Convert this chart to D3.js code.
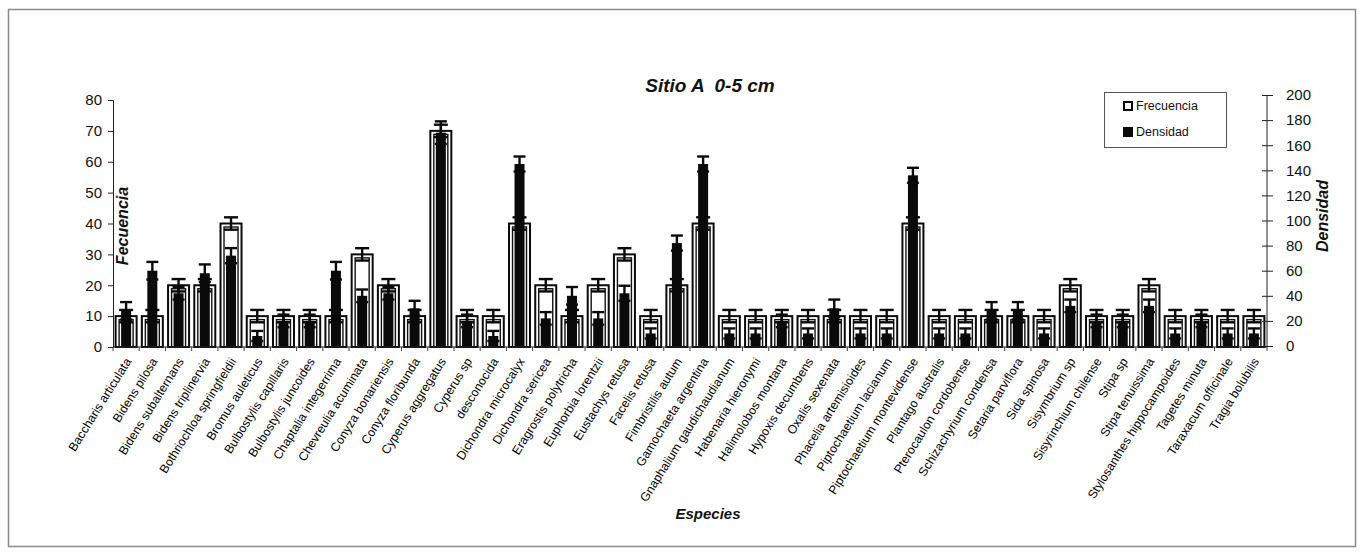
<!DOCTYPE html>
<html>
<head>
<meta charset="utf-8">
<script src="https://cdn.jsdelivr.net/npm/d3@7/dist/d3.min.js"></script>
<style>
  html, body { margin: 0; padding: 0; background: #fff; }
  svg { display: block; font-family: Arial, "Liberation Sans", sans-serif; }
</style>
</head>
<body>
<svg id="chart" width="1364" height="553"></svg>
<script>
// Species sampled at site A, 0-5 cm
const species = [
  "Baccharis articulata", "Bidens pilosa", "Bidens subalternans", "Bidens triplinervia",
  "Bothriochloa springfieldii", "Bromus auleticus", "Bulbostylis capillaris", "Bulbostylis juncoides",
  "Chaptalia integerrima", "Chevreulia acuminata", "Conyza bonariensis", "Conyza floribunda",
  "Cyperus aggregatus", "Cyperus sp", "desconocida", "Dichondra microcalyx",
  "Dichondra sericea", "Eragrostis polytricha", "Euphorbia lorentzii", "Eustachys retusa",
  "Facelis retusa", "Fimbristilis autum", "Gamochaeta argentina", "Gnaphalium gaudichaudianum",
  "Habenaria hieronymi", "Halimolobos montana", "Hypoxis decumbens", "Oxalis sexenata",
  "Phacelia artemisioides", "Piptochaetium lacianum", "Piptochaetium montevidense", "Plantago australis",
  "Pterocaulon cordobense", "Schizachyrium condensa", "Setaria parviflora", "Sida spinosa",
  "Sisymbrium sp", "Sisyrinchium chilense", "Stipa sp", "Stipa tenuissima",
  "Stylosanthes hippocampoides", "Tagetes minuta", "Taraxacum officinale", "Tragia bolubilis"
];

// Frecuencia (%) and its error
const frecuencia = [10,10,20,20,40,10,10,10,10,30,20,10,70,10,10,40,20,10,20,30,10,20,40,10,
                    10,10,10,10,10,10,40,10,10,10,10,10,20,10,10,20,10,10,10,10];
const frecuenciaErr = [2,2,2,2,2,2,2,2,2,2,2,2,2,2,2,2,2,2,2,2,2,2,2,2,
                       2,2,2,2,2,2,2,2,2,2,2,2,2,2,2,2,2,2,2,2,2,2];

// Densidad and its error
const densidad = [28,60,42,58,72,8,20,20,60,40,42,30,170,20,8,145,22,40,22,42,10,82,145,10,
                  10,20,10,30,10,10,136,10,10,28,28,10,32,20,20,32,10,20,10,10];
const densidadErr = [7,7,5,7,6,4,5,5,7,5,5,6,9,5,4,6,5,7,5,6,4,6,6,4,
                     4,5,4,7,4,4,6,4,4,7,7,4,5,5,5,5,4,5,4,4];

const frecuenciaTicks = [0,10,20,30,40,50,60,70,80];
const densidadTicks = [0,20,40,60,80,100,120,140,160,180,200];

const rows = species.map((s, i) => ({
  name: s, f: frecuencia[i], fe: frecuenciaErr[i], d: densidad[i], de: densidadErr[i]
}));

const svg = d3.select("#chart");

// outer frame
svg.append("rect")
  .attr("x", 8.5).attr("y", 9.5).attr("width", 1347).attr("height", 537)
  .attr("fill", "none").attr("stroke", "#8a8a8a").attr("stroke-width", 1.5);

const left = 113, right = 1267;
const x = d3.scaleBand().domain(species).range([left, right]);
const yL = d3.scaleLinear().domain([0, 80]).range([347, 100]);
const yR = d3.scaleLinear().domain([0, 200]).range([346, 95]);

const freqW = 21, densW = 10, capF = 14, capD = 12;
const cx = d => x(d.name) + x.bandwidth() / 2;

const g = svg.append("g");

// Frecuencia bars: white with a doubled outline
g.selectAll("rect.freq").data(rows).join("rect")
  .attr("class", "freq")
  .attr("x", d => cx(d) - freqW / 2).attr("width", freqW)
  .attr("y", d => yL(d.f)).attr("height", d => yL(0) - yL(d.f))
  .attr("fill", "#fff").attr("stroke", "#0a0a0a").attr("stroke-width", 2);
g.selectAll("rect.freqIn").data(rows).join("rect")
  .attr("class", "freqIn")
  .attr("x", d => cx(d) - freqW / 2 + 3.5).attr("width", freqW - 7)
  .attr("y", d => yL(d.f) + 3.5).attr("height", d => Math.max(0, yL(0) - yL(d.f) - 3.5))
  .attr("fill", "none").attr("stroke", "#111").attr("stroke-width", 1.4);

// Densidad bars: solid black, narrower, in front
g.selectAll("rect.dens").data(rows).join("rect")
  .attr("class", "dens")
  .attr("x", d => cx(d) - densW / 2).attr("width", densW)
  .attr("y", d => yR(d.d)).attr("height", d => yR(0) - yR(d.d))
  .attr("fill", "#0a0a0a");

// error bars
function errorBars(cls, scale, val, err, capW) {
  const eg = g.selectAll("g." + cls).data(rows).join("g").attr("class", cls)
    .attr("stroke", "#0a0a0a").attr("stroke-width", 2.4);
  eg.append("line")
    .attr("x1", cx).attr("x2", cx)
    .attr("y1", d => scale(val(d) + err(d))).attr("y2", d => scale(Math.max(0, val(d) - err(d))));
  eg.append("line")
    .attr("x1", d => cx(d) - capW / 2).attr("x2", d => cx(d) + capW / 2)
    .attr("y1", d => scale(val(d) + err(d))).attr("y2", d => scale(val(d) + err(d)));
  eg.append("line")
    .attr("x1", d => cx(d) - capW / 2).attr("x2", d => cx(d) + capW / 2)
    .attr("y1", d => scale(Math.max(0, val(d) - err(d)))).attr("y2", d => scale(Math.max(0, val(d) - err(d))));
}
errorBars("errF", yL, d => d.f, d => d.fe, capF);
errorBars("errD", yR, d => d.d, d => d.de, capD);

// left axis
const axL = svg.append("g").attr("transform", `translate(${left},0)`)
  .call(d3.axisLeft(yL).tickValues(frecuenciaTicks).tickSize(5).tickPadding(6));
axL.selectAll("text").attr("font-size", 15).attr("fill", "#111");
axL.selectAll("line, path").attr("stroke", "#222");

// right axis with crossing ticks
const axR = svg.append("g").attr("transform", `translate(${right},0)`)
  .call(d3.axisRight(yR).tickValues(densidadTicks).tickSize(6).tickPadding(13));
axR.selectAll(".tick line").attr("x1", -5);
axR.selectAll("text").attr("font-size", 15).attr("fill", "#111");
axR.selectAll("line, path").attr("stroke", "#222");
axR.select(".domain").attr("d", `M0,${yR(200)}V${yR(0)}`);

// x axis line with ticks between categories
const xAxis = svg.append("g");
xAxis.append("line").attr("x1", left).attr("x2", right)
  .attr("y1", yL(0)).attr("y2", yL(0)).attr("stroke", "#222").attr("stroke-width", 1.2);
xAxis.selectAll("line.t").data(species.concat(["__end"])).join("line")
  .attr("class", "t")
  .attr("x1", s => s === "__end" ? right : x(s))
  .attr("x2", s => s === "__end" ? right : x(s))
  .attr("y1", yL(0)).attr("y2", yL(0) + 4).attr("stroke", "#444");

// category labels
xAxis.selectAll("text.lab").data(species).join("text")
  .attr("class", "lab")
  .attr("transform", s => `translate(${x(s) + x.bandwidth() / 2 + 2},${yL(0) + 12}) rotate(-58)`)
  .attr("text-anchor", "end").attr("dy", "0.35em")
  .attr("font-size", 12.3).attr("fill", "#000")
  .text(s => s);

// titles
svg.append("text").attr("x", 710).attr("y", 92).attr("text-anchor", "middle")
  .attr("font-size", 19).attr("font-weight", "bold").attr("font-style", "italic")
  .attr("fill", "#111").style("white-space", "pre").text("Sitio A  0-5 cm");

svg.append("text").attr("x", 708).attr("y", 519).attr("text-anchor", "middle")
  .attr("font-size", 15).attr("font-weight", "bold").attr("font-style", "italic")
  .attr("fill", "#111").text("Especies");

svg.append("text").attr("transform", "translate(128,226) rotate(-90)")
  .attr("text-anchor", "middle")
  .attr("font-size", 16).attr("font-weight", "bold").attr("font-style", "italic")
  .attr("fill", "#111").text("Fecuencia");

svg.append("text").attr("transform", "translate(1328,216) rotate(-90)")
  .attr("text-anchor", "middle")
  .attr("font-size", 16).attr("font-weight", "bold").attr("font-style", "italic")
  .attr("fill", "#111").text("Densidad");

// legend
const lg = svg.append("g");
lg.append("rect").attr("x", 1104.5).attr("y", 92.5).attr("width", 122).attr("height", 55)
  .attr("fill", "#fff").attr("stroke", "#555").attr("stroke-width", 1);
const legendItems = [
  { label: "Frecuencia", fill: "#fff", y: 106 },
  { label: "Densidad", fill: "#0a0a0a", y: 132 }
];
legendItems.forEach(it => {
  lg.append("rect").attr("x", 1124).attr("y", it.y - 4).attr("width", 8).attr("height", 8)
    .attr("fill", it.fill).attr("stroke", "#0a0a0a").attr("stroke-width", 2);
  lg.append("text").attr("x", 1136).attr("y", it.y).attr("dy", "0.35em")
    .attr("font-size", 12.5).attr("fill", "#111").text(it.label);
});
</script>
</body>
</html>
